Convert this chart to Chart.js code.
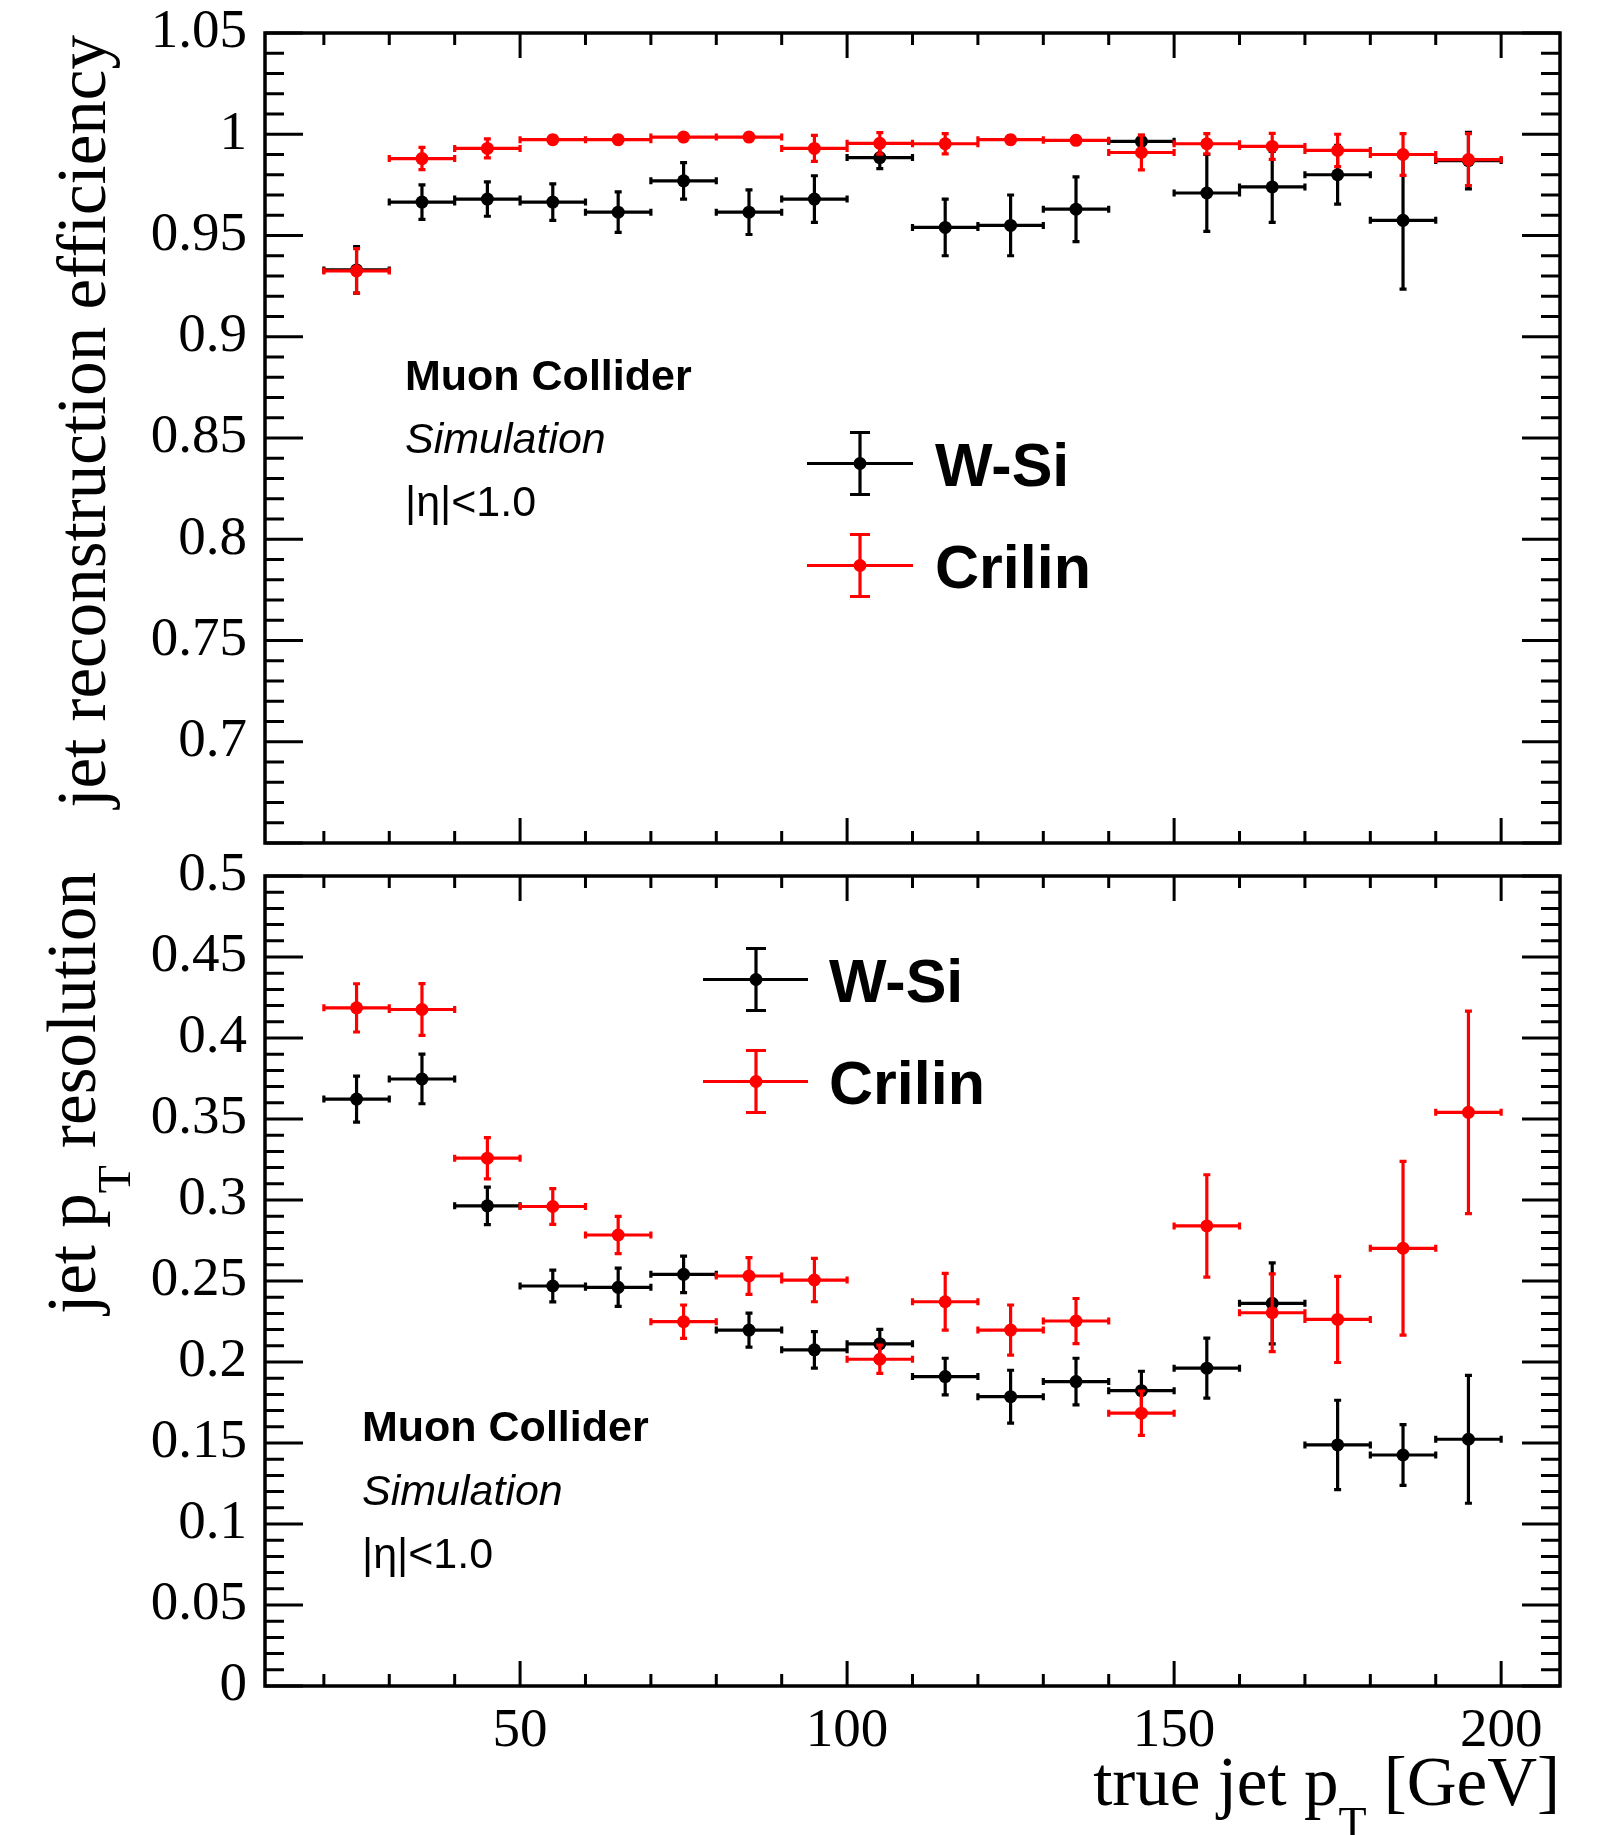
<!DOCTYPE html>
<html>
<head>
<meta charset="utf-8">
<title>Jet reconstruction efficiency and pT resolution</title>
<script src="https://cdn.jsdelivr.net/npm/chart.js@4.4.1/dist/chart.umd.min.js"></script>
<style>
html, body { margin: 0; padding: 0; background: #fff; overflow: hidden; }
#wrap { position: relative; width: 1599px; height: 1835px; background: #fff; overflow: hidden; }
canvas { position: absolute; left: 0; }
#effCanvas { top: -14px; }
#resCanvas { top: 829px; }
</style>
</head>
<body>
<div id="wrap">
  <canvas id="effCanvas" width="1599" height="907"></canvas>
  <canvas id="resCanvas" width="1599" height="1006"></canvas>
</div>
<script>
// ---------------- data ----------------
const pTBinCenters = [25, 35, 45, 55, 65, 75, 85, 95, 105, 115, 125, 135, 145, 155, 165, 175, 185, 195];
const pTBinHalfWidth = 5;

const seriesNames  = ['W-Si', 'Crilin'];
const seriesColors = ['#000000', '#ff0000'];

// jet reconstruction efficiency
const effWSi       = [0.933, 0.9665, 0.968, 0.9665, 0.9615, 0.977, 0.9615, 0.968, 0.9885, 0.954, 0.955, 0.963, 0.9965, 0.971, 0.974, 0.980, 0.9575, 0.987];
const effWSiErr    = [0.0115, 0.0085, 0.0085, 0.009, 0.010, 0.009, 0.011, 0.0115, 0.0055, 0.014, 0.015, 0.016, 0.003, 0.019, 0.0175, 0.0145, 0.034, 0.014];
const effCrilin    = [0.9325, 0.988, 0.993, 0.9973, 0.9973, 0.9986, 0.9986, 0.993, 0.9955, 0.9953, 0.9973, 0.997, 0.991, 0.9953, 0.994, 0.992, 0.990, 0.9875];
const effCrilinErr = [0.011, 0.0055, 0.0047, 0.002, 0.002, 0.0015, 0.0015, 0.0064, 0.0053, 0.005, 0.002, 0.002, 0.0086, 0.005, 0.0064, 0.008, 0.0103, 0.0128];

// jet pT resolution
const resWSi       = [0.3623, 0.3747, 0.2964, 0.2469, 0.2461, 0.2541, 0.2197, 0.2075, 0.2112, 0.191, 0.1786, 0.1879, 0.1823, 0.1962, 0.2362, 0.1488, 0.1426, 0.1523];
const resWSiErr    = [0.0142, 0.0153, 0.0116, 0.0098, 0.0118, 0.0113, 0.0105, 0.0113, 0.009, 0.0113, 0.0163, 0.0144, 0.012, 0.0185, 0.025, 0.0276, 0.0188, 0.0395];
const resCrilin    = [0.4186, 0.4176, 0.3258, 0.296, 0.2784, 0.2249, 0.2531, 0.2506, 0.2017, 0.2372, 0.2197, 0.2253, 0.1684, 0.284, 0.2304, 0.2263, 0.2702, 0.3541];
const resCrilinErr = [0.0149, 0.016, 0.0127, 0.011, 0.0115, 0.0103, 0.0113, 0.0134, 0.0087, 0.0175, 0.0155, 0.0139, 0.0137, 0.0316, 0.024, 0.0266, 0.0536, 0.0625];

// axes
const pTRange   = [11, 209];
const effRange  = [0.65, 1.05];
const resRange  = [0, 0.5];
const pTTicks   = [50, 100, 150, 200];
const effTicks  = [0.7, 0.75, 0.8, 0.85, 0.9, 0.95, 1, 1.05];
const resTicks  = [0, 0.05, 0.1, 0.15, 0.2, 0.25, 0.3, 0.35, 0.4, 0.45, 0.5];

const SERIF = '"Liberation Serif", "DejaVu Serif", serif';
const SANS  = '"Liberation Sans", Arial, sans-serif';

// ---------------- plugins ----------------
function drawRich(ctx, parts, x, y, rotate) {
  ctx.save();
  ctx.translate(x, y);
  if (rotate) ctx.rotate(-Math.PI / 2);
  ctx.textAlign = 'left';
  ctx.textBaseline = 'alphabetic';
  ctx.fillStyle = '#000';
  let total = 0;
  parts.forEach(p => { ctx.font = p.font; p.w = ctx.measureText(p.text).width; total += p.w; });
  let cx = -total;
  parts.forEach(p => { ctx.font = p.font; ctx.fillText(p.text, cx, p.dy || 0); cx += p.w; });
  ctx.restore();
}

const errorBarPlugin = {
  id: 'errorBars',
  beforeDatasetDraw(chart, args) {
    const ds = chart.data.datasets[args.index];
    const xs = chart.scales.x, ys = chart.scales.y, ctx = chart.ctx;
    const cap = 3.5;
    ctx.save();
    ctx.strokeStyle = ds.borderColor;
    ctx.lineWidth = 3.2;
    ctx.beginPath();
    ds.data.forEach((p, i) => {
      const xc = xs.getPixelForValue(p.x), yc = ys.getPixelForValue(p.y);
      const x0 = xs.getPixelForValue(p.x - ds.xErr[i]), x1 = xs.getPixelForValue(p.x + ds.xErr[i]);
      const y0 = ys.getPixelForValue(p.y - ds.yErr[i]), y1 = ys.getPixelForValue(p.y + ds.yErr[i]);
      ctx.moveTo(x0, yc); ctx.lineTo(x1, yc);
      ctx.moveTo(x0, yc - cap); ctx.lineTo(x0, yc + cap);
      ctx.moveTo(x1, yc - cap); ctx.lineTo(x1, yc + cap);
      ctx.moveTo(xc, y0); ctx.lineTo(xc, y1);
      ctx.moveTo(xc - cap, y0); ctx.lineTo(xc + cap, y0);
      ctx.moveTo(xc - cap, y1); ctx.lineTo(xc + cap, y1);
    });
    ctx.stroke();
    ctx.restore();
  }
};

const rootFramePlugin = {
  id: 'rootFrame',
  afterDatasetsDraw(chart, args, opts) {
    const { ctx, chartArea: a, scales: { x, y } } = chart;
    ctx.save();
    ctx.strokeStyle = '#000';
    ctx.lineWidth = 3;
    ctx.beginPath();
    // y ticks (both sides)
    const ys = opts.yMinor;
    for (let i = Math.ceil(y.min / ys - 1e-6); i <= Math.floor(y.max / ys + 1e-6); i++) {
      const py = y.getPixelForValue(i * ys);
      const len = (i % 5 === 0) ? 38 : 19;
      ctx.moveTo(a.left, py); ctx.lineTo(a.left + len, py);
      ctx.moveTo(a.right, py); ctx.lineTo(a.right - len, py);
    }
    // x ticks (top and bottom)
    const xsStep = opts.xMinor;
    for (let i = Math.ceil(x.min / xsStep - 1e-6); i <= Math.floor(x.max / xsStep + 1e-6); i++) {
      const px = x.getPixelForValue(i * xsStep);
      const len = (i % 5 === 0) ? 25 : 12;
      ctx.moveTo(px, a.bottom); ctx.lineTo(px, a.bottom - len);
      ctx.moveTo(px, a.top); ctx.lineTo(px, a.top + len);
    }
    ctx.stroke();
    ctx.lineWidth = 3.5;
    ctx.strokeRect(a.left, a.top, a.right - a.left, a.bottom - a.top);
    ctx.restore();

    // legend (drawn from dataset labels and colours)
    const lg = opts.legend;
    const order = [1, 0]; // W-Si first, then Crilin
    order.forEach((dsIndex, row) => {
      const ds = chart.data.datasets[dsIndex];
      const cy = lg.y + row * lg.dy;
      ctx.save();
      ctx.strokeStyle = ds.borderColor;
      ctx.fillStyle = ds.borderColor;
      ctx.lineWidth = 3.2;
      ctx.beginPath();
      ctx.moveTo(lg.x0, cy); ctx.lineTo(lg.x1, cy);
      ctx.moveTo(lg.xm, cy - 31); ctx.lineTo(lg.xm, cy + 31);
      ctx.moveTo(lg.xm - 10, cy - 31); ctx.lineTo(lg.xm + 10, cy - 31);
      ctx.moveTo(lg.xm - 10, cy + 31); ctx.lineTo(lg.xm + 10, cy + 31);
      ctx.stroke();
      ctx.beginPath();
      ctx.arc(lg.xm, cy, 6.5, 0, Math.PI * 2);
      ctx.fill();
      ctx.fillStyle = '#000';
      ctx.font = 'bold 61px ' + SANS;
      ctx.textAlign = 'left';
      ctx.textBaseline = 'alphabetic';
      ctx.fillText(ds.label, lg.textX, cy + 22);
      ctx.restore();
    });

    // annotation text
    const t = opts.note;
    ctx.save();
    ctx.fillStyle = '#000';
    ctx.textAlign = 'left';
    ctx.textBaseline = 'alphabetic';
    ctx.font = 'bold 43px ' + SANS;
    ctx.fillText('Muon Collider', t.x, t.y);
    ctx.font = 'italic 43px ' + SANS;
    ctx.fillText('Simulation', t.x, t.y + t.dy);
    ctx.font = '43px ' + SANS;
    ctx.fillText('|η|<1.0', t.x, t.y + 2 * t.dy);
    ctx.restore();

    // axis titles
    opts.titles.forEach(tt => drawRich(ctx, tt.parts, tt.x, tt.y, tt.rotate));
  }
};

// ---------------- charts ----------------
function makeDataset(label, color, vals, errs, order) {
  return {
    label,
    data: pTBinCenters.map((xv, i) => ({ x: xv, y: vals[i] })),
    xErr: pTBinCenters.map(() => pTBinHalfWidth),
    yErr: errs,
    borderColor: color,
    backgroundColor: color,
    pointBackgroundColor: color,
    pointBorderColor: color,
    pointBorderWidth: 0,
    pointRadius: 6.5,
    pointHoverRadius: 6.5,
    showLine: false,
    order
  };
}

const TITLE = '69px ' + SERIF;
const SUB = '46px ' + SERIF;

function makeConfig(p) {
  return {
    type: 'scatter',
    data: {
      datasets: [
        makeDataset(seriesNames[1], seriesColors[1], p.crilin, p.crilinErr, 0),
        makeDataset(seriesNames[0], seriesColors[0], p.wsi, p.wsiErr, 1)
      ]
    },
    options: {
      responsive: false,
      animation: false,
      events: [],
      layout: { padding: { top: p.padTop, right: 39, left: 0, bottom: 0 } },
      plugins: {
        legend: { display: false },
        tooltip: { enabled: false },
        rootFrame: { yMinor: 0.01, xMinor: 10, legend: p.legend, note: p.note, titles: p.titles }
      },
      scales: {
        x: {
          type: 'linear', min: pTRange[0], max: pTRange[1],
          afterBuildTicks: s => { s.ticks = pTTicks.map(v => ({ value: v })); },
          afterFit: s => { s.height = p.xHeight; },
          grid: { display: false, drawTicks: false },
          border: { display: false },
          ticks: {
            display: p.showX, autoSkip: false, maxRotation: 0, minRotation: 0,
            padding: 18, color: '#000',
            font: { family: SERIF, size: 55, lineHeight: 1 },
            callback: v => String(v)
          }
        },
        y: {
          type: 'linear', min: p.yRange[0], max: p.yRange[1],
          afterBuildTicks: s => { s.ticks = p.yTicks.map(v => ({ value: v })); },
          afterFit: s => { s.width = 265; },
          grid: { display: false, drawTicks: false },
          border: { display: false },
          ticks: {
            padding: 18, color: '#000',
            font: { family: SERIF, size: 55, lineHeight: 1 },
            callback: v => String(v)
          }
        }
      }
    },
    plugins: [errorBarPlugin, rootFramePlugin]
  };
}

// top panel: canvas placed at y = -14
new Chart(document.getElementById('effCanvas'), makeConfig({
  wsi: effWSi, wsiErr: effWSiErr, crilin: effCrilin, crilinErr: effCrilinErr,
  yRange: effRange, yTicks: effTicks,
  padTop: 47, xHeight: 50, showX: false,
  legend: { x0: 807, x1: 913, xm: 860, y: 477.5, dy: 102, textX: 935 },
  note: { x: 405, y: 404, dy: 63 },
  titles: [
    { rotate: true, x: 105, y: 49, parts: [{ text: 'jet reconstruction efficiency', font: TITLE }] }
  ]
}));

// bottom panel: canvas placed at y = 829
new Chart(document.getElementById('resCanvas'), makeConfig({
  wsi: resWSi, wsiErr: resWSiErr, crilin: resCrilin, crilinErr: resCrilinErr,
  yRange: resRange, yTicks: resTicks,
  padTop: 47, xHeight: 149, showX: true,
  legend: { x0: 703, x1: 808, xm: 756, y: 150.5, dy: 102, textX: 829 },
  note: { x: 362, y: 612, dy: 63.5 },
  titles: [
    { rotate: true, x: 95, y: 43, parts: [
      { text: 'jet p', font: TITLE },
      { text: 'T', font: SUB, dy: 35 },
      { text: ' resolution', font: TITLE }
    ] },
    { rotate: false, x: 1560, y: 976, parts: [
      { text: 'true jet p', font: TITLE },
      { text: 'T', font: SUB, dy: 34 },
      { text: ' [GeV]', font: TITLE }
    ] }
  ]
}));
</script>
</body>
</html>
